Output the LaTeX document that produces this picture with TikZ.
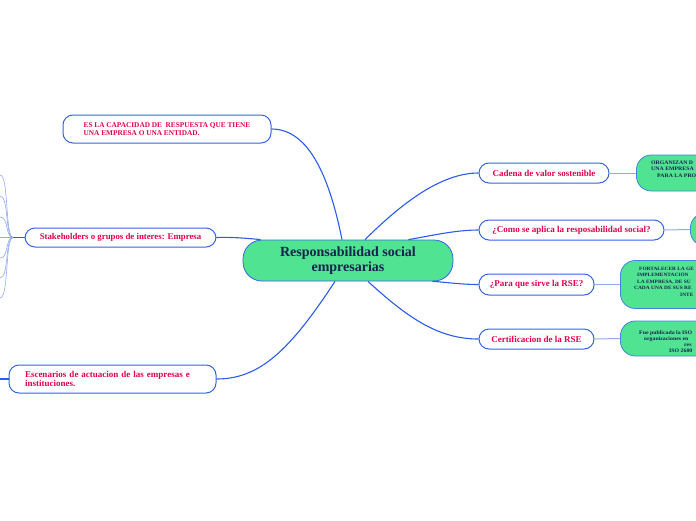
\documentclass[tikz,border=0pt]{standalone}
\usepackage{fontspec}
\setmainfont{Liberation Serif}
\newfontfamily\widefont[FakeStretch=1.1]{Liberation Serif}
\usetikzlibrary{calc}
\definecolor{redtxt}{HTML}{E2004F}
\definecolor{navy}{HTML}{1B2150}
\definecolor{mainedge}{HTML}{2B5CEB}
\definecolor{lightedge}{HTML}{93AAF3}
\definecolor{greenfill}{HTML}{50E391}
\definecolor{boxborder}{HTML}{3465E6}
\definecolor{greenborder}{HTML}{3F87DA}
\begin{document}
\begin{tikzpicture}[x=1pt,y=-1pt,
  subbox/.style={draw=boxborder, line width=1pt, fill=white, rounded corners=10pt,
    text=redtxt, font=\bfseries\fontsize{9}{9.8}\selectfont, inner sep=0pt},
  centralbox/.style={draw=boxborder, line width=0.8pt, fill=greenfill, rounded corners=19pt,
    minimum width=210pt, minimum height=41pt, inner sep=0pt, align=center,
    text=navy, font=\bfseries\fontsize{14}{15}\selectfont},
  leafbox/.style={draw=greenborder, line width=0.8pt, fill=greenfill, rounded corners=15pt, inner sep=0pt},
  gtxt/.style={anchor=base west, inner sep=0pt, text=navy, font=\widefont\bfseries\fontsize{5.3}{6}\selectfont},
  gtxtsmall/.style={gtxt, font=\widefont\bfseries\fontsize{4.9}{6}\selectfont},
  mainline/.style={draw=mainedge, line width=1.1pt},
  lightline/.style={draw=lightedge, line width=1pt},
  fanline/.style={draw=lightedge, line width=0.6pt}
]
\useasboundingbox (0,0) rectangle (696,520);
\clip (0,0) rectangle (696,520);

% central node
\node[centralbox] (c) at (348,260.5) {Responsabilidad social\\empresarias};

% left side nodes
\node[subbox, minimum width=208pt, minimum height=28pt, align=left,
  font=\bfseries\fontsize{7.3}{8.3}\selectfont] (es) at (167,129)
  {ES LA CAPACIDAD DE\ \ RESPUESTA QUE TIENE\\UNA EMPRESA O UNA ENTIDAD.};
\node[subbox, minimum width=191pt, minimum height=19pt, font=\bfseries\fontsize{8.8}{9.6}\selectfont] (st) at (120.5,237.5)
  {Stakeholders o grupos de interes: Empresa};
\node[subbox, minimum height=28pt, text width=175pt, inner xsep=16pt, align=left] (esc) at (112.5,379)
  {Escenarios de actuacion de las empresas e\\instituciones.};

% right side nodes
\node[subbox, minimum width=130pt, minimum height=20pt] (cad) at (544,173) {Cadena de valor sostenible};
\node[subbox, minimum width=185pt, minimum height=20pt] (como) at (571.5,230) {¿Como se aplica la resposabilidad social?};
\node[subbox, minimum width=115pt, minimum height=21pt] (para) at (536.5,284.5) {¿Para que sirve la RSE?};
\node[subbox, minimum width=115pt, minimum height=20pt] (cert) at (536.5,339) {Certificacion de la RSE};

% green leaves (cut by the right edge)
\node[leafbox, anchor=west, minimum width=100pt, minimum height=36pt] (ga) at (636,173) {};
\node[leafbox, anchor=west, minimum width=60pt, minimum height=33pt] (gb) at (690,229.5) {};
\node[leafbox, anchor=west, minimum width=110pt, minimum height=48pt] (gc) at (620,284.5) {};
\node[leafbox, anchor=west, minimum width=110pt, minimum height=35pt] (gd) at (620,338.5) {};

\node[gtxt] (ga1) at (651,164) {ORGANIZAN D};
\node[gtxt] (ga2) at (651,170.5) {UNA EMPRESA};
\node[gtxt] (ga3) at (657,177) {PARA LA PRO};

\node[gtxtsmall] (gc1) at (639,270) {FORTALECER LA GE};
\node[gtxtsmall] (gc2) at (637,276.5) {IMPLEMENTACIÓN};
\node[gtxtsmall] (gc3) at (637,283) {LA EMPRESA, DE SU};
\node[gtxtsmall] (gc4) at (634,289.5) {CADA UNA DE SUS\ RE};
\node[gtxtsmall] (gc5) at (680,296) {INTE};

\node[gtxt] (gd1) at (639,334) {Fue publicada la ISO};
\node[gtxt] (gd2) at (644,340) {organizaciones en};
\node[gtxt] (gd3) at (684,346) {res};
\node[gtxt] (gd4) at (669,352) {ISO 2600};

% main connectors
\draw[mainline] ($(c.north)+(-6,0)$) .. controls (330,180) and (310,129) .. (es.east);
\draw[mainline] ($(c.north west)+(18,0)$) .. controls (245,238) and (230,237) .. (st.east);
\draw[mainline] ($(c.south)+(-13,0)$) .. controls (290,350) and (260,379) .. (esc.east);
\draw[mainline] ($(c.north)+(17,0)$) .. controls (400,205) and (440,173) .. (cad.west);
\draw[mainline] ($(c.north east)+(-45,0)$) .. controls (430,236) and (455,230) .. (como.west);
\draw[mainline] ($(c.south east)+(-21,0)$) .. controls (445,282) and (460,284.5) .. (para.west);
\draw[mainline] ($(c.south)+(20,0)$) .. controls (410,320) and (440,339) .. (cert.west);

% secondary connectors
\draw[lightline] (cad.east) -- (ga.west);
\draw[lightline] (como.east) -- (gb.west);
\draw[lightline] (para.east) -- (gc.west);
\draw[lightline] (cert.east) -- (gd.west);

% stakeholders fan
\coordinate (j) at (13,237.5);
\coordinate (l1) at (0,175);
\coordinate (l2) at (0,196);
\coordinate (l3) at (0,217);
\coordinate (l4) at (0,237.5);
\coordinate (l5) at (0,258);
\coordinate (l6) at (0,278);
\coordinate (l7) at (0,298);
\draw[mainline] (j) -- (st.west);
\foreach \t in {l1,l2,l3,l5,l6,l7}{
  \draw[fanline] (j) .. controls ($(j)+(-8,0)$) and ($(\t)+(9,0)$) .. (\t);
}
\draw[fanline] (j) -- (l4);

% escenarios left stub
\coordinate (el) at (0,379);
\draw[mainline] (el) -- (esc.west);
\end{tikzpicture}
\end{document}
